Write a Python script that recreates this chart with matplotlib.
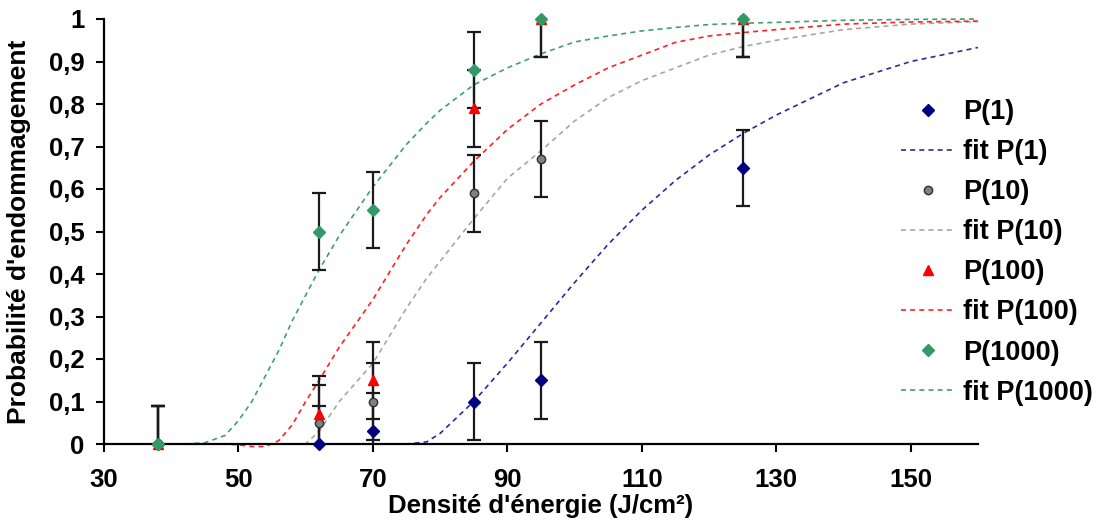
import matplotlib
matplotlib.use("Agg")
import matplotlib.pyplot as plt
from matplotlib.ticker import FuncFormatter

plt.rcParams['font.family'] = ['Liberation Sans', 'DejaVu Sans']
plt.rcParams['font.weight'] = 'bold'

# ---- data ----
x_pts = [38, 62, 70, 85, 95, 125]
p1 = [0, 0, 0.03, 0.10, 0.15, 0.65]
p10 = [0, 0.05, 0.10, 0.59, 0.67, 1.0]
p100 = [0, 0.07, 0.15, 0.79, 1.0, 1.0]
p1000 = [0, 0.50, 0.55, 0.88, 1.0, 1.0]
err = 0.09

fit_x = [38, 42, 45, 48, 50, 52, 54, 56, 58, 60, 62, 65, 70, 75, 78, 80, 85,
         90, 95, 100, 105, 110, 115, 120, 125, 130, 140, 150, 160]
fit_p1 = [0, 0, 0, 0, 0, 0, 0, 0, 0, 0, 0, 0, 0, 0, 0.005, 0.025, 0.10,
          0.19, 0.285, 0.38, 0.47, 0.55, 0.62, 0.68, 0.73, 0.774, 0.85, 0.90, 0.933]
fit_p10 = [0, 0, 0, 0, 0, 0, 0, 0, 0, 0, 0.03, 0.10, 0.19, 0.32, 0.39, 0.43, 0.53,
           0.625, 0.69, 0.76, 0.815, 0.855, 0.885, 0.915, 0.935, 0.95, 0.975, 0.988, 0.994]
fit_p100 = [0, 0, 0, 0, -0.002, -0.006, -0.006, 0.008, 0.045, 0.10, 0.15, 0.228, 0.34, 0.47, 0.54, 0.58, 0.665,
            0.74, 0.80, 0.845, 0.885, 0.915, 0.945, 0.96, 0.968, 0.975, 0.988, 0.993, 0.995]
fit_p1000 = [0, 0, 0.003, 0.02, 0.055, 0.10, 0.16, 0.22, 0.29, 0.35, 0.41, 0.49, 0.605, 0.705, 0.755, 0.785, 0.845,
             0.885, 0.918, 0.946, 0.96, 0.972, 0.98, 0.987, 0.99, 0.992, 0.997, 0.999, 1.0]

x_ticks = [30, 50, 70, 90, 110, 130, 150]
y_ticks = [0, 0.1, 0.2, 0.3, 0.4, 0.5, 0.6, 0.7, 0.8, 0.9, 1.0]

series = [
    ("P(1)", p1, "fit P(1)", fit_p1, dict(marker='D', color='#000080', mec='#000080', ms=6), '#2b2b9a'),
    ("P(10)", p10, "fit P(10)", fit_p10, dict(marker='o', color='#808080', mec='#303030', ms=6), '#a6a6a6'),
    ("P(100)", p100, "fit P(100)", fit_p100, dict(marker='^', color='#ff0000', mec='#ff0000', ms=7), '#ff2020'),
    ("P(1000)", p1000, "fit P(1000)", fit_p1000, dict(marker='D', color='#339966', mec='#339966', ms=6), '#3f9f70'),
]

fig = plt.figure(figsize=(11.06, 5.23), dpi=100)
ax = fig.add_axes([104/1106, 1-444/523, 874/1106, 425/523])

for lab, vals, flab, fvals, mk, fcol in series:
    ax.errorbar(x_pts, vals, yerr=err, fmt='none', ecolor='#1a1a1a', elinewidth=1.6,
                capsize=5, capthick=1.6, zorder=3)
    ax.plot(x_pts, vals, linestyle='none', label=lab, clip_on=False, zorder=4, **mk)
    ax.plot(fit_x, fvals, linestyle=(0, (3, 2.5)), color=fcol, lw=1.2, label=flab,
            clip_on=False, zorder=2)

ax.set_xlim(30, 160)
ax.set_ylim(0, 1)
ax.set_xticks(x_ticks)
ax.set_yticks(y_ticks)
ax.yaxis.set_major_formatter(FuncFormatter(lambda v, p: ('%g' % round(v, 1)).replace('.', ',')))
ax.tick_params(axis='both', direction='out', length=6, width=1.5, labelsize=18.5, color='black')
ax.tick_params(axis='x', pad=11)
ax.tick_params(axis='y', pad=8)
for s in ['top', 'right']:
    ax.spines[s].set_visible(False)
for s in ['left', 'bottom']:
    ax.spines[s].set_linewidth(1.6)

ax.set_xlabel("Densité d'énergie (J/cm²)", fontsize=18.5, fontweight='bold')
ax.xaxis.set_label_coords(0.5, -0.118)
ax.xaxis.label.set_va('top')
ax.set_ylabel("Probabilité d'endommagement", fontsize=19, fontweight='bold')
ax.yaxis.set_label_coords(-0.083, 0.5)

leg = ax.legend(loc='upper left', bbox_to_anchor=((901 - 104)/874, (444-99)/425),
                frameon=False, fontsize=19.5, handlelength=2.0, handletextpad=0.3,
                labelspacing=0.52, borderaxespad=0, borderpad=0)

fig.savefig("out.png", dpi=100)
